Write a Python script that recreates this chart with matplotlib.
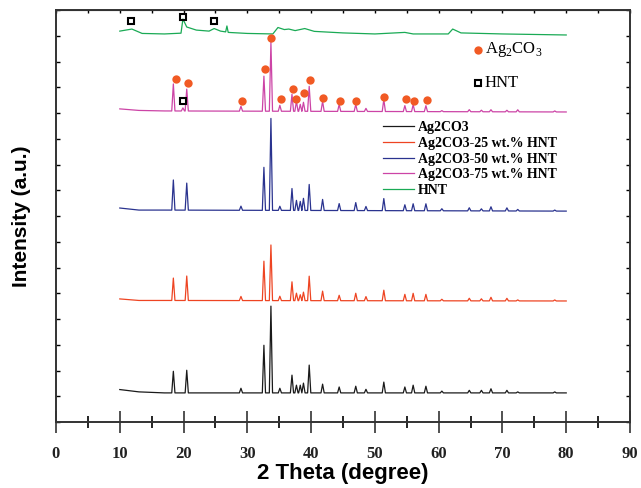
import numpy as np
import matplotlib.pyplot as plt

# Ag2CO3 reflection positions (2theta) and peak heights for each sample (a.u.)
peak_pos = [18.4, 20.5, 29.0, 32.6, 33.7, 35.1, 37.0, 37.7, 38.3, 38.8, 39.7, 41.8, 44.4,
            47.0, 48.6, 51.4, 54.7, 56.0, 58.0, 60.5, 64.8, 66.7, 68.2, 70.7, 72.4, 78.2]
h_ag2co3 = [0.84, 0.88, 0.18, 1.85, 3.37, 0.18, 0.69, 0.30, 0.30, 0.38, 1.08, 0.34, 0.23,
            0.26, 0.14, 0.42, 0.23, 0.30, 0.26, 0.07, 0.10, 0.10, 0.16, 0.10, 0.04, 0.04]
h_25 = [0.87, 0.95, 0.16, 1.53, 2.16, 0.17, 0.73, 0.29, 0.23, 0.33, 0.95, 0.37, 0.21,
        0.29, 0.16, 0.41, 0.25, 0.29, 0.25, 0.06, 0.10, 0.08, 0.14, 0.10, 0.04, 0.04]
h_50 = [1.17, 1.05, 0.16, 1.67, 3.57, 0.16, 0.85, 0.39, 0.35, 0.47, 1.01, 0.43, 0.27,
        0.31, 0.16, 0.47, 0.23, 0.27, 0.27, 0.08, 0.12, 0.08, 0.16, 0.12, 0.06, 0.04]
h_75 = [1.05, 0.85, 0.19, 1.36, 2.68, 0.23, 0.66, 0.39, 0.27, 0.35, 0.97, 0.39, 0.27,
        0.27, 0.12, 0.47, 0.23, 0.27, 0.23, 0.04, 0.08, 0.06, 0.08, 0.06, 0.08, 0.04]

# baselines (stacked offsets) read at a few 2theta points
base_x = [10, 13, 17, 80]
base_ag2co3 = [1.26, 1.17, 1.13, 1.13]
base_25 = [4.78, 4.72, 4.72, 4.70]
base_50 = [8.31, 8.23, 8.23, 8.19]
base_75 = [12.16, 12.10, 12.08, 12.04]

# small HNT reflection seen in the 75 wt.% sample
hnt_in_75_pos = [19.9]
hnt_in_75_h = [0.12]

# HNT pattern
hnt_x = [10.0, 11.9, 13.5, 17.0, 19.6, 19.9, 20.5, 22.0, 24.0, 24.8, 25.8, 26.6, 26.8, 27.0,
         30.0, 34.0, 34.8, 35.8, 36.5, 37.5, 39.0, 40.5, 45.0, 50.0, 54.7, 56.0, 61.5, 62.2,
         63.5, 70.0, 80.0]
hnt_y = [15.18, 15.26, 15.09, 15.07, 15.10, 15.65, 15.34, 15.22, 15.18, 15.28, 15.18, 15.15,
         15.38, 15.13, 15.09, 15.07, 15.32, 15.24, 15.26, 15.20, 15.28, 15.17, 15.11, 15.07,
         15.13, 15.07, 15.07, 15.26, 15.11, 15.07, 15.03]

# phase markers
circ_x = [18.8, 20.7, 29.2, 32.8, 33.7, 35.3, 37.2, 37.7, 38.9, 39.9, 41.9, 44.5, 47.1,
          51.5, 54.8, 56.2, 58.1]
circ_y = [13.32, 13.17, 12.47, 13.71, 14.91, 12.54, 12.93, 12.54, 12.79, 13.27, 12.57,
          12.47, 12.47, 12.63, 12.53, 12.48, 12.49]
sq_x = [11.76, 19.9, 24.8, 19.9]
sq_y = [15.57, 15.73, 15.57, 12.47]

labels = ['Ag2CO3', 'Ag2CO3-25 wt.% HNT', 'Ag2CO3-50 wt.% HNT', 'Ag2CO3-75 wt.% HNT', 'HNT']
colors = ['#1a1a1a', '#ee4422', '#2a338f', '#cc44a6', '#1aaa55']


def build_trace(pos, hts, bx, by, w=0.25):
    # each reflection drawn as a narrow spike sitting on the baseline
    pts = []
    for p, h in zip(pos, hts):
        b = np.interp(p, bx, by)
        pts += [(p - w, b), (p, b + h), (p + w, b)]
    for x, y in zip(bx, by):
        if all(abs(x - p) > w for p in pos):
            pts.append((x, y))
    pts.sort()
    return [q[0] for q in pts], [q[1] for q in pts]


plt.rcParams['mathtext.fontset'] = 'custom'
plt.rcParams['mathtext.rm'] = 'Liberation Serif'

fig = plt.figure(figsize=(6.41, 4.88), dpi=100)
ax = fig.add_axes([56 / 641, 1 - 422 / 488, 574 / 641, 412 / 488])

series = [
    (peak_pos, h_ag2co3, base_ag2co3),
    (peak_pos, h_25, base_25),
    (peak_pos, h_50, base_50),
    (peak_pos + hnt_in_75_pos, h_75 + hnt_in_75_h, base_75),
]
for (pos, hts, by), lab, c in zip(series, labels[:4], colors[:4]):
    xs, ys = build_trace(pos, hts, base_x, by)
    ax.plot(xs, ys, color=c, lw=0.9, label=lab)
ax.plot(hnt_x, hnt_y, color=colors[4], lw=0.9, label=labels[4])

ax.plot(circ_x, circ_y, 'o', color='#f15a24', ms=6, mec='none')
ax.plot(sq_x, sq_y, 's', mfc='none', mec='black', mew=1.5, ms=5)

# marker key
ax.plot([66.2], [14.45], 'o', color='#f15a24', ms=6, mec='none')
ax.plot([66.2], [13.17], 's', mfc='none', mec='black', mew=1.5, ms=5)
ax.text(67.2, 14.45, r'Ag$_2$CO$_3$', fontsize=12, family='Liberation Serif', va='center')
ax.text(67.2, 13.17, 'HNT', fontsize=12, family='Liberation Serif', va='center')

leg = ax.legend(loc='upper left', bbox_to_anchor=(376 / 641, 1 - 114 / 488),
                bbox_transform=fig.transFigure, frameon=False, borderpad=0,
                handlelength=2.2, handletextpad=0.3, labelspacing=0.2,
                prop={'family': 'Liberation Serif', 'weight': 'bold', 'size': 10})

ax.set_xlim(0, 90)
ax.set_ylim(0, 16)
ax.set_xticks(np.arange(0, 91, 10))
ax.set_xticks(np.arange(0, 91, 5), minor=True)
ax.set_yticks(np.arange(0, 17, 1))
ax.tick_params(axis='x', which='major', direction='inout', length=16, width=1.2, pad=9,
               colors='#333333')
ax.tick_params(axis='x', which='minor', direction='inout', length=9, width=1.2)
ax.tick_params(axis='y', direction='in', length=3, width=1, left=True, right=True,
               labelleft=False)
for lab in ax.get_xticklabels():
    lab.set_family('Liberation Serif')
    lab.set_weight('bold')
    lab.set_fontsize(12)
    lab.set_color('#222222')

top = ax.secondary_xaxis('top')
top.set_xticks(np.arange(0, 91, 5))
top.tick_params(direction='in', length=2.5, width=1, labeltop=False)

for s in ax.spines.values():
    s.set_linewidth(1.4)
    s.set_color('#333333')

ax.set_xlabel('2 Theta (degree)', fontsize=16, fontweight='bold',
              family='Liberation Sans', labelpad=1)
ax.set_ylabel('Intensity (a.u.)', fontsize=15, fontweight='bold',
              family='Liberation Sans', labelpad=18)

fig.savefig('out.png', dpi=100)
